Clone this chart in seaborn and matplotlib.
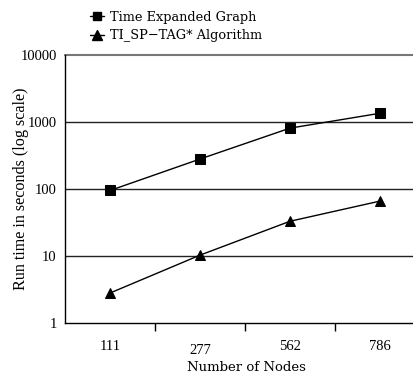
import matplotlib
matplotlib.use("Agg")
import matplotlib.pyplot as plt
import matplotlib.transforms as mtransforms
import seaborn as sns
import pandas as pd
import numpy as np

# data
nodes = ["111", "277", "562", "786"]
time_expanded = [95, 280, 810, 1350]
ti_sp_tag = [2.8, 10.3, 33, 66]
series_names = ["Time Expanded Graph", "TI_SP\u2212TAG* Algorithm"]

df = pd.DataFrame({
    "node": list(range(len(nodes))) * 2,
    "runtime": time_expanded + ti_sp_tag,
    "series": [series_names[0]] * len(nodes) + [series_names[1]] * len(nodes),
})

sns.set_style("white")
plt.rcParams["font.family"] = ["Liberation Serif", "DejaVu Serif"]
plt.rcParams["text.color"] = "black"
plt.rcParams["axes.labelcolor"] = "black"
plt.rcParams["xtick.color"] = "black"
plt.rcParams["ytick.color"] = "black"

fig = plt.figure(figsize=(4.14, 3.78), dpi=100)
W, H = 414, 378
# axes runs a bit past the right edge, like the original
ax = fig.add_axes([65 / W, 1 - 323 / H, 360 / W, (323 - 55) / H])

sns.lineplot(data=df, x="node", y="runtime", hue="series", style="series",
             markers={series_names[0]: "s", series_names[1]: "^"},
             dashes=False, palette=["black", "black"], linewidth=1,
             markersize=6.5, markeredgecolor="black", ax=ax, legend=False)

ax.set_yscale("log")
ax.set_ylim(1, 10000)
ax.set_xlim(-0.5, 3.5)

yt = [1, 10, 100, 1000, 10000]
ax.set_yticks(yt)
ax.set_yticklabels([str(v) for v in yt], fontsize=10.5)
ax.yaxis.set_minor_locator(matplotlib.ticker.NullLocator())
ax.tick_params(axis="y", length=0, pad=6)

ax.set_xticks(range(len(nodes)))
ax.set_xticklabels(nodes, fontsize=10.5)
ax.set_xticks([0.5, 1.5, 2.5], minor=True)
ax.tick_params(axis="x", which="major", length=0, pad=12)
ax.tick_params(axis="x", which="minor", length=6, width=1, color="black", direction="out", bottom=True)
# second label sits a bit lower in the original
lbl = ax.get_xticklabels()[1]
lbl.set_transform(lbl.get_transform() + mtransforms.ScaledTranslation(0, -3 / 72, fig.dpi_scale_trans))

for v in [10, 100, 1000]:
    ax.axhline(v, color="#222222", lw=1, zorder=0)
ax.axhline(10000, color="#777777", lw=1.5, zorder=0, clip_on=False)

for s in ["top", "right"]:
    ax.spines[s].set_visible(False)
for s in ["left", "bottom"]:
    ax.spines[s].set_color("black")
    ax.spines[s].set_linewidth(1)

ax.set_xlabel("Number of Nodes", fontsize=9.5, family=["DejaVu Serif"])
ax.xaxis.set_label_coords((246 - 65) / 360, -(361 - 323) / 268)
ax.set_ylabel("Run time in seconds (log scale)", fontsize=11.6)
ax.yaxis.set_label_coords(-(65 - 29) / 360, 0.5)

handles = [
    matplotlib.lines.Line2D([], [], color="black", lw=1, marker="s", markersize=6),
    matplotlib.lines.Line2D([], [], color="black", lw=1, marker="^", markersize=7.5),
]
fig.legend(handles, series_names, loc="upper left", bbox_to_anchor=(78 / W, 1 + 1 / H),
           frameon=False, handlelength=1.1, handletextpad=0.5, labelspacing=0.45,
           prop={"family": "DejaVu Serif", "size": 9.3})

fig.savefig("out.png", dpi=100)
